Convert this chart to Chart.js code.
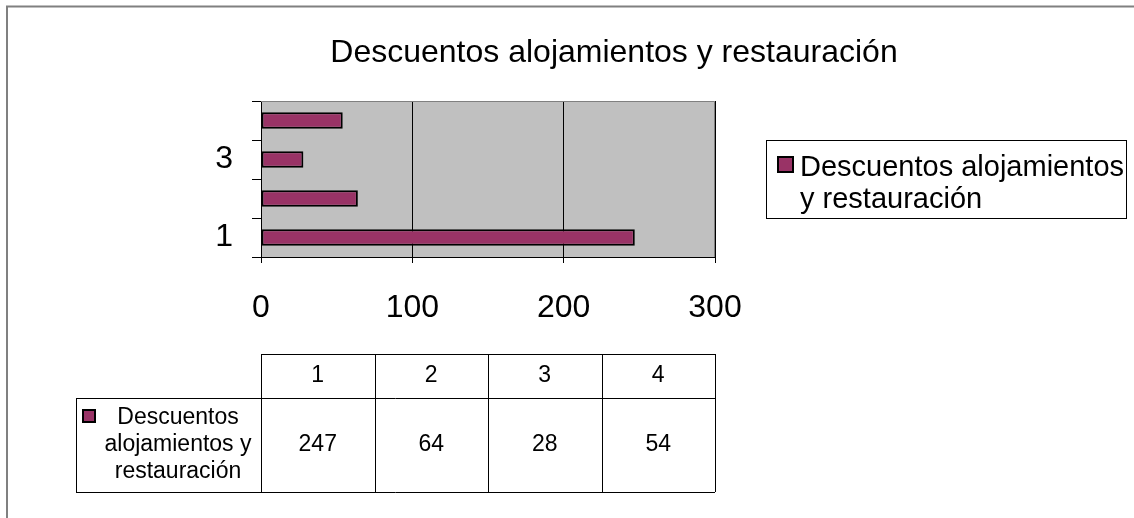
<!DOCTYPE html>
<html>
<head>
<meta charset="utf-8">
<script src="https://cdn.jsdelivr.net/npm/chart.js@4.4.1/dist/chart.umd.min.js"></script>
<style>
  html, body { margin: 0; padding: 0; background: #fff; overflow: hidden; }
  #wrap { position: relative; width: 1134px; height: 518px; }
</style>
</head>
<body>
<div id="wrap"><canvas id="chart" width="1134" height="518"></canvas></div>
<script>
const categories = ['1', '2', '3', '4'];
const seriesName = 'Descuentos alojamientos y restauración';
const seriesValues = [247, 64, 28, 54];
const xTicks = [0, 100, 200, 300];
const shownCategoryLabels = ['1', '3'];
const legendLines = ['Descuentos alojamientos', 'y restauración'];
const tableRowLines = ['Descuentos', 'alojamientos y', 'restauración'];

const FONT = 'Arial, "Liberation Sans", sans-serif';
const BAR = '#993366';
const PLOT_BG = '#c0c0c0';
const FRAME = '#808080';

// where the grey plot area sits on the canvas
const plotBox = { left: 261, top: 101, right: 715, bottom: 257 };

function drawSwatch(ctx, x, y, size) {
    ctx.fillStyle = BAR;
    ctx.fillRect(x, y, size, size);
    ctx.strokeStyle = '#000';
    ctx.lineWidth = 2;
    ctx.strokeRect(x, y, size, size);
}

const decorations = {
    id: 'decorations',
    beforeDraw(chart) {
        const { ctx, chartArea: a } = chart;
        ctx.save();
        ctx.fillStyle = PLOT_BG;
        ctx.fillRect(a.left, a.top, a.right - a.left, a.bottom - a.top);
        ctx.restore();
    },
    beforeDatasetsDraw(chart) {
        const { ctx, chartArea: a } = chart;
        ctx.save();
        ctx.strokeStyle = FRAME;
        ctx.lineWidth = 1;
        ctx.beginPath();
        ctx.moveTo(a.left, a.top + 0.5);
        ctx.lineTo(a.right - 0.5, a.top + 0.5);
        ctx.lineTo(a.right - 0.5, a.bottom);
        ctx.stroke();
        ctx.restore();
    },
    afterDraw(chart) {
        const { ctx, chartArea: a } = chart;
        ctx.save();

        // outer frame
        ctx.strokeStyle = FRAME;
        ctx.lineWidth = 2;
        ctx.strokeRect(7, 6.5, 1200, 600);

        // title
        ctx.fillStyle = '#000';
        ctx.font = '32px ' + FONT;
        ctx.textAlign = 'center';
        ctx.textBaseline = 'alphabetic';
        ctx.fillText(seriesName, 614, 62);

        // legend box
        ctx.strokeStyle = '#000';
        ctx.lineWidth = 1;
        ctx.strokeRect(766.5, 140.5, 360, 78);
        drawSwatch(ctx, 778, 157, 15);
        ctx.fillStyle = '#000';
        ctx.font = '29px ' + FONT;
        ctx.textAlign = 'left';
        ctx.textBaseline = 'middle';
        legendLines.forEach((t, i) => ctx.fillText(t, 800, 168 + i * 32));

        // data table under the axis
        const colW = (a.right - a.left) / categories.length;
        const headTop = 354, rowTop = 398, rowBottom = 492, labelLeft = 76;
        ctx.strokeStyle = '#000';
        ctx.lineWidth = 1;
        ctx.beginPath();
        ctx.moveTo(a.left, headTop + 0.5); ctx.lineTo(a.right, headTop + 0.5);
        ctx.moveTo(labelLeft, rowTop + 0.5); ctx.lineTo(a.right, rowTop + 0.5);
        ctx.moveTo(labelLeft, rowBottom + 0.5); ctx.lineTo(a.right, rowBottom + 0.5);
        ctx.moveTo(labelLeft + 0.5, rowTop); ctx.lineTo(labelLeft + 0.5, rowBottom);
        for (let i = 0; i <= categories.length; i++) {
            const x = Math.round(a.left + i * colW) + 0.5;
            ctx.moveTo(x, headTop); ctx.lineTo(x, rowBottom);
        }
        ctx.stroke();

        ctx.fillStyle = '#000';
        ctx.font = '23px ' + FONT;
        ctx.textAlign = 'center';
        ctx.textBaseline = 'middle';
        const valueY = (rowTop + rowBottom) / 2;
        categories.forEach((c, i) => {
            const cx = a.left + (i + 0.5) * colW;
            ctx.fillText(c, cx, (headTop + rowTop) / 2);
            ctx.fillText(String(seriesValues[i]), cx, valueY);
        });
        tableRowLines.forEach((t, i) => ctx.fillText(t, 178, 418 + i * 27));
        drawSwatch(ctx, 83, 410, 12);

        ctx.restore();
    }
};

new Chart(document.getElementById('chart'), {
    type: 'bar',
    data: {
        labels: categories,
        datasets: [{
            label: seriesName,
            data: seriesValues,
            backgroundColor: BAR,
            borderColor: '#000',
            borderWidth: 2,
            borderSkipped: false,
            categoryPercentage: 1,
            barPercentage: 0.42
        }]
    },
    options: {
        indexAxis: 'y',
        responsive: false,
        animation: false,
        layout: {
            padding: { left: 0, top: plotBox.top, right: 1134 - plotBox.right, bottom: 0 }
        },
        scales: {
            x: {
                type: 'linear',
                min: xTicks[0],
                max: xTicks[xTicks.length - 1],
                afterBuildTicks: s => { s.ticks = xTicks.map(v => ({ value: v })); },
                afterFit: s => { s.height = 518 - plotBox.bottom; },
                grid: { color: '#000', lineWidth: 1, tickLength: 6 },
                border: { color: '#000', width: 1 },
                ticks: { color: '#000', font: { family: FONT, size: 32 }, padding: 26, maxRotation: 0 }
            },
            y: {
                type: 'category',
                reverse: true,
                offset: true,
                afterFit: s => { s.width = plotBox.left; },
                grid: { drawOnChartArea: false, offset: true, color: '#000', tickLength: 9 },
                border: { color: '#000', width: 1 },
                ticks: {
                    color: '#000',
                    autoSkip: false,
                    padding: 19,
                    font: { family: FONT, size: 32 },
                    callback: function (v) {
                        const lab = this.getLabelForValue(v);
                        return shownCategoryLabels.includes(lab) ? lab : '';
                    }
                }
            }
        },
        plugins: {
            legend: { display: false },
            title: { display: false },
            tooltip: { enabled: false }
        }
    },
    plugins: [decorations]
});
</script>
</body>
</html>
